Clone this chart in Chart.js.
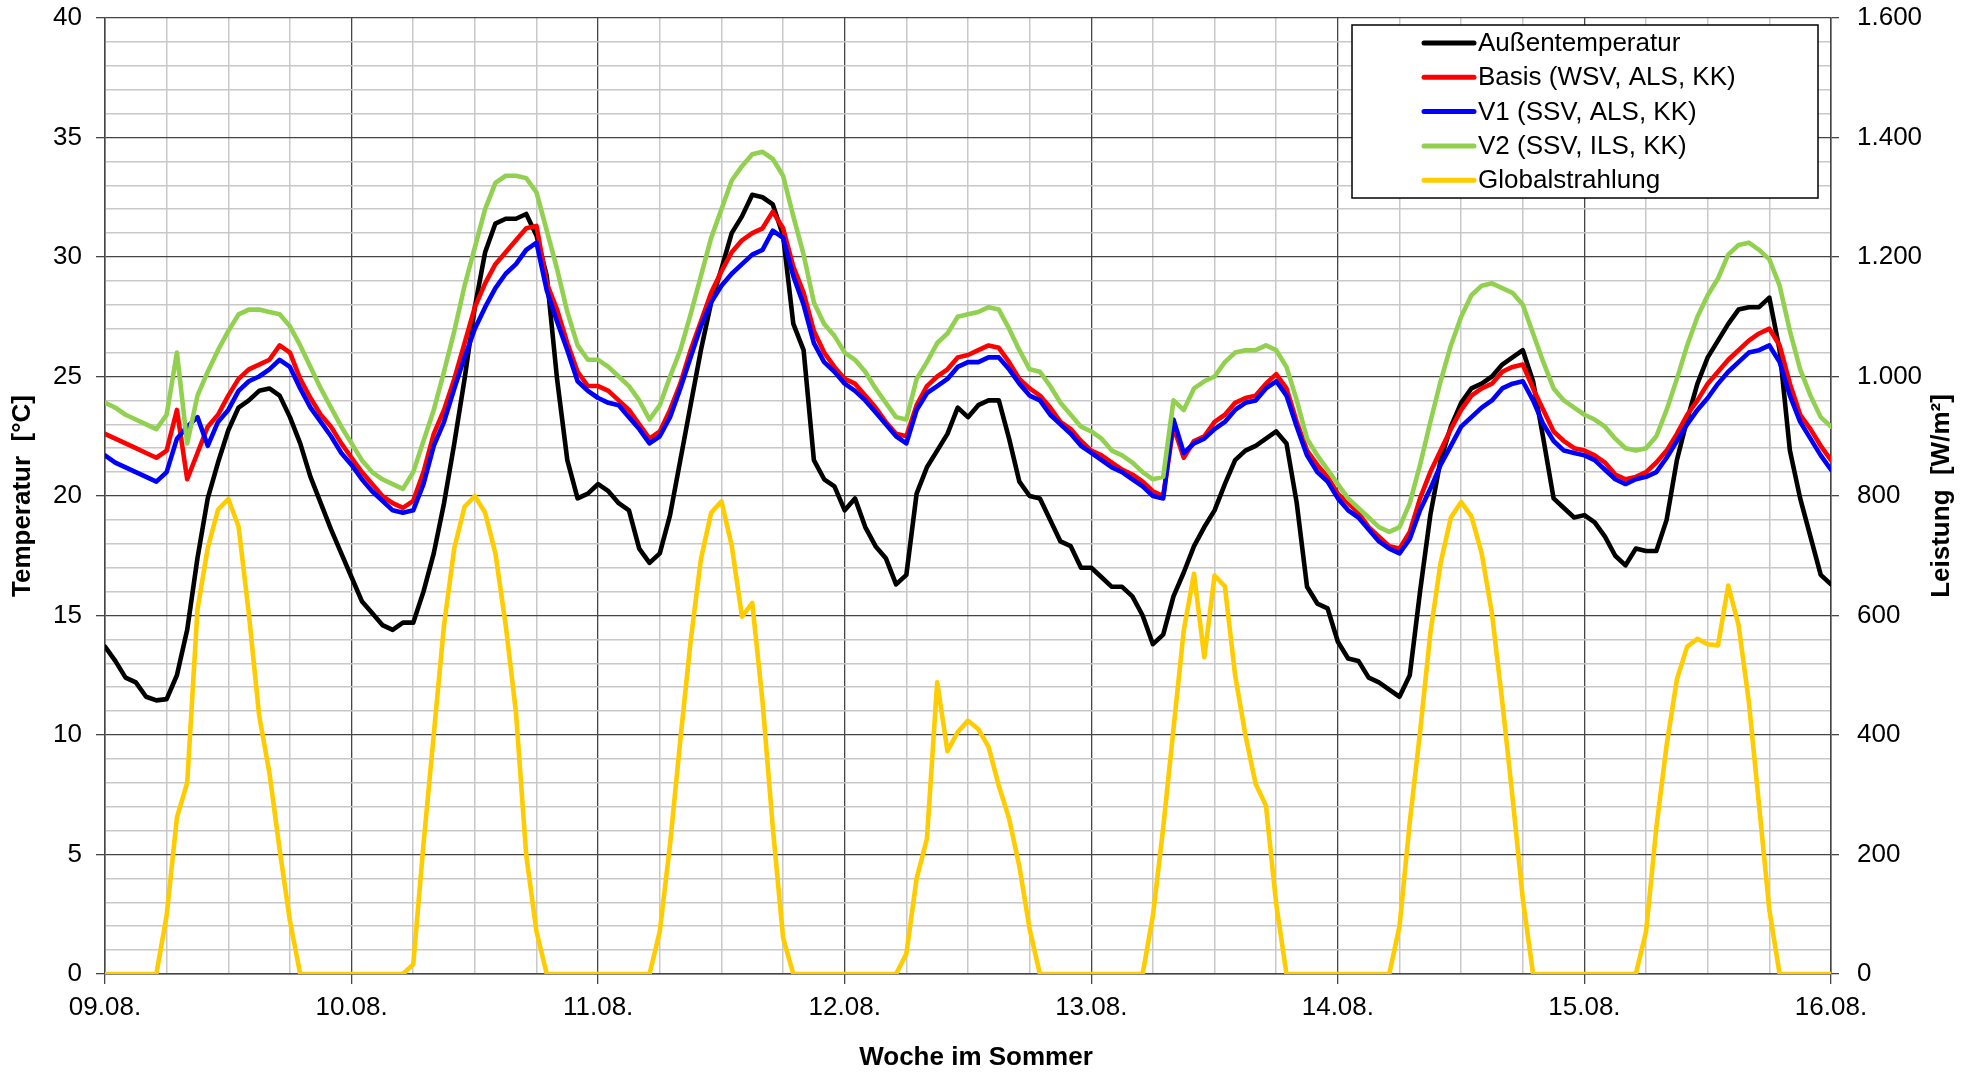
<!DOCTYPE html>
<html><head><meta charset="utf-8">
<script src="https://cdn.jsdelivr.net/npm/chart.js@4.4.1/dist/chart.umd.min.js"></script>
<style>html,body{margin:0;padding:0;background:#fff;}canvas{display:block;}</style>
</head><body>
<canvas id="c" width="1976" height="1074"></canvas>
<script>
// ---- data (hourly values, 09.08. 00:00 .. 16.08. 00:00) ----
const dayLabels = ['09.08.','10.08.','11.08.','12.08.','13.08.','14.08.','15.08.','16.08.'];
const seriesNames = ['Außentemperatur','Basis (WSV, ALS, KK)','V1 (SSV, ALS, KK)','V2 (SSV, ILS, KK)','Globalstrahlung'];
const xTitle = 'Woche im Sommer';
const yTitleLeft = 'Temperatur  [°C]';
const yTitleRight = 'Leistung  [W/m²]';
const STEP_H = 1;

const aussen = [
13.7,13.1,12.4,12.2,11.6,11.45,11.5,12.5,14.4,17.4,
19.9,21.4,22.75,23.7,24.0,24.4,24.5,24.2,23.3,22.2,
20.8,19.7,18.6,17.6,16.6,15.6,15.1,14.6,14.4,14.7,
14.7,16.0,17.6,19.7,22.2,24.9,27.9,30.2,31.4,31.6,
31.6,31.8,30.9,29.2,24.9,21.5,19.9,20.1,20.5,20.2,
19.7,19.4,17.8,17.2,17.6,19.2,21.5,23.8,26.1,28.1,
29.5,31.0,31.7,32.6,32.5,32.2,30.9,27.2,26.1,21.5,
20.7,20.4,19.4,19.9,18.7,17.9,17.4,16.3,16.7,20.1,
21.2,21.9,22.6,23.7,23.3,23.8,24.0,24.0,22.4,20.6,
20.0,19.9,19.0,18.1,17.9,17.0,17.0,16.6,16.2,16.2,
15.8,15.0,13.8,14.2,15.8,16.8,17.9,18.7,19.4,20.5,
21.5,21.9,22.1,22.4,22.7,22.2,19.7,16.2,15.5,15.3,
13.9,13.2,13.1,12.4,12.2,11.9,11.6,12.5,16.0,19.2,
21.5,22.9,23.9,24.5,24.7,25.0,25.5,25.8,26.1,24.8,
22.4,19.9,19.5,19.1,19.2,18.9,18.3,17.5,17.1,17.8,
17.7,17.7,19.0,21.5,23.2,24.7,25.8,26.5,27.2,27.8,
27.9,27.9,28.3,26.1,21.9,19.9,18.3,16.7,16.3];

const basis = [
22.6,22.4,22.2,22.0,21.8,21.6,21.9,23.6,20.7,21.8,
22.9,23.4,24.2,24.9,25.3,25.5,25.7,26.3,26.0,24.9,
24.1,23.4,22.9,22.2,21.6,21.0,20.5,20.0,19.7,19.5,
19.8,21.0,22.6,23.6,24.9,26.4,27.9,28.9,29.7,30.2,
30.7,31.2,31.3,28.9,27.8,26.4,25.2,24.6,24.6,24.4,
24.0,23.6,23.0,22.4,22.7,23.6,24.7,26.1,27.3,28.5,
29.4,30.2,30.7,31.0,31.2,31.9,31.2,29.6,28.5,26.9,
26.0,25.4,24.9,24.7,24.2,23.7,23.1,22.6,22.5,23.8,
24.6,25.0,25.3,25.8,25.9,26.1,26.3,26.2,25.6,24.9,
24.5,24.2,23.7,23.1,22.8,22.3,21.9,21.7,21.4,21.1,
20.9,20.6,20.2,20.0,22.9,21.6,22.3,22.5,23.1,23.4,
23.9,24.1,24.2,24.7,25.1,24.5,23.1,21.9,21.3,20.8,
20.1,19.7,19.3,18.7,18.3,17.9,17.8,18.5,19.9,21.0,
21.9,22.8,23.6,24.2,24.5,24.7,25.2,25.4,25.5,24.5,
23.6,22.7,22.3,22.0,21.9,21.7,21.4,20.9,20.7,20.8,
21.0,21.4,21.9,22.6,23.4,24.0,24.7,25.2,25.7,26.1,
26.5,26.8,27.0,26.3,24.7,23.4,22.8,22.1,21.5];

const v1 = [
21.7,21.4,21.2,21.0,20.8,20.6,21.0,22.4,22.9,23.3,
22.1,23.1,23.6,24.4,24.8,25.0,25.3,25.7,25.4,24.5,
23.7,23.1,22.5,21.8,21.3,20.7,20.2,19.8,19.4,19.3,
19.4,20.5,22.1,23.1,24.5,25.8,27.0,27.9,28.7,29.3,
29.7,30.3,30.6,28.6,27.3,26.1,24.8,24.4,24.1,23.9,
23.8,23.3,22.8,22.2,22.5,23.3,24.5,25.8,27.1,28.1,
28.8,29.3,29.7,30.1,30.3,31.1,30.8,29.2,28.0,26.4,
25.6,25.2,24.7,24.4,24.0,23.5,23.0,22.5,22.2,23.6,
24.3,24.6,24.9,25.4,25.6,25.6,25.8,25.8,25.3,24.7,
24.2,24.0,23.4,23.0,22.6,22.1,21.8,21.5,21.2,21.0,
20.7,20.4,20.0,19.9,23.2,21.8,22.2,22.4,22.8,23.1,
23.6,23.9,24.0,24.5,24.8,24.2,22.9,21.7,21.0,20.6,
19.9,19.4,19.1,18.6,18.1,17.8,17.6,18.2,19.4,20.3,
21.3,22.1,22.9,23.3,23.7,24.0,24.5,24.7,24.8,24.0,
23.0,22.3,21.9,21.8,21.7,21.5,21.1,20.7,20.5,20.7,
20.8,21.0,21.6,22.3,23.0,23.6,24.1,24.7,25.2,25.6,
26.0,26.1,26.3,25.6,24.2,23.1,22.4,21.7,21.1];

const v2 = [
23.9,23.7,23.4,23.2,23.0,22.8,23.4,26.0,22.2,24.2,
25.2,26.1,26.9,27.6,27.8,27.8,27.7,27.6,27.1,26.3,
25.4,24.5,23.7,22.9,22.2,21.5,21.0,20.7,20.5,20.3,
21.0,22.3,23.6,25.2,26.9,28.8,30.4,32.0,33.1,33.4,
33.4,33.3,32.7,31.1,29.5,27.7,26.3,25.7,25.7,25.4,
25.0,24.6,24.0,23.2,23.8,25.0,26.1,27.6,29.2,30.8,
32.0,33.2,33.8,34.3,34.4,34.1,33.4,31.7,30.1,28.1,
27.2,26.7,26.0,25.7,25.2,24.5,23.9,23.3,23.2,24.9,
25.6,26.4,26.8,27.5,27.6,27.7,27.9,27.8,27.0,26.1,
25.3,25.2,24.6,23.9,23.4,22.9,22.7,22.4,21.9,21.7,
21.4,21.0,20.7,20.8,24.0,23.6,24.5,24.8,25.0,25.6,
26.0,26.1,26.1,26.3,26.1,25.4,24.0,22.4,21.7,21.1,
20.5,19.9,19.5,19.1,18.7,18.5,18.7,19.7,21.3,23.1,
24.8,26.3,27.5,28.4,28.8,28.9,28.7,28.5,28.0,26.8,
25.6,24.5,24.0,23.7,23.4,23.2,22.9,22.4,22.0,21.9,
22.0,22.5,23.6,24.9,26.3,27.5,28.4,29.1,30.1,30.5,
30.6,30.3,29.9,28.8,26.9,25.3,24.2,23.3,22.9];

const strahlung = [
0,0,0,0,0,0,98,262,320,610,
713,777,795,749,603,433,337,208,89,0,
0,0,0,0,0,0,0,0,0,0,
16,217,401,584,713,782,800,772,704,584,
438,199,71,0,0,0,0,0,0,0,
0,0,0,0,71,217,392,557,694,772,
791,717,598,621,456,245,61,0,0,0,
0,0,0,0,0,0,0,0,34,160,
226,488,373,405,424,410,380,315,260,180,
75,0,0,0,0,0,0,0,0,0,
0,0,98,245,410,575,670,530,667,649,
500,400,318,282,117,0,0,0,0,0,
0,0,0,0,0,0,80,254,405,570,
688,764,790,766,704,603,456,296,126,0,
0,0,0,0,0,0,0,0,0,0,
71,245,383,493,548,561,552,550,650,584,
456,282,107,0,0,0,0,0,0];

// ---- styling ----
const FONT = "'Liberation Sans', Arial, Helvetica, sans-serif";
const MAJOR = '#454545';
const MINOR = '#c8c8c8';

function pts(arr){ return arr.map((v,i)=>({x:i*STEP_H, y:v})); }
function deNum(v){
  if (v >= 1000) { const r = String(v % 1000).padStart(3,'0'); return Math.floor(v/1000) + '.' + r; }
  return String(v);
}

const titlePlugin = {
  id:'titles',
  afterDraw(chart){
    const ctx = chart.ctx, ca = chart.chartArea;
    const cy = (ca.top + ca.bottom) / 2;
    ctx.save();
    ctx.fillStyle = '#000';
    ctx.font = 'bold 26px ' + FONT;
    ctx.textAlign = 'center';
    ctx.textBaseline = 'middle';
    ctx.save(); ctx.translate(23, cy); ctx.rotate(-Math.PI/2); ctx.fillText(yTitleLeft, 0, 0); ctx.restore();
    ctx.save(); ctx.translate(1942, cy); ctx.rotate(-Math.PI/2); ctx.fillText(yTitleRight, 0, 0); ctx.restore();
    ctx.fillText(xTitle, 976, 1058);
    ctx.restore();
  }
};

const legendPlugin = {
  id:'boxLegend',
  afterDraw(chart){
    const ctx = chart.ctx;
    const x0 = 1352, y0 = 25, w = 466, h = 173;
    ctx.save();
    ctx.fillStyle = '#fff';
    ctx.fillRect(x0, y0, w, h);
    ctx.strokeStyle = '#000';
    ctx.lineWidth = 1.5;
    ctx.strokeRect(x0, y0, w, h);
    chart.data.datasets.forEach((ds, i) => {
      const y = y0 + 18 + i * 34.3;
      ctx.strokeStyle = ds.borderColor;
      ctx.lineWidth = 5;
      ctx.lineCap = 'round';
      ctx.beginPath(); ctx.moveTo(1424, y); ctx.lineTo(1474, y); ctx.stroke();
      ctx.fillStyle = '#000';
      ctx.font = '26px ' + FONT;
      ctx.textAlign = 'left';
      ctx.textBaseline = 'middle';
      ctx.fillText(ds.label, 1478, y + 1);
    });
    ctx.restore();
  }
};

const colors = ['#000000', '#ff0000', '#0000ff', '#92d050', '#ffcc00'];
const values = [aussen, basis, v1, v2, strahlung];

const datasets = values.map((arr, i) => ({
  label: seriesNames[i],
  data: pts(arr),
  borderColor: colors[i],
  backgroundColor: colors[i],
  yAxisID: i === 4 ? 'y1' : 'y',
  order: 5 - i,
  borderWidth: 4.6,
  pointRadius: 0,
  tension: 0,
  fill: false
}));

new Chart(document.getElementById('c'), {
  type: 'line',
  data: { datasets },
  options: {
    responsive: false,
    animation: false,
    devicePixelRatio: 1,
    layout: { padding: { top: 18, right: 0, bottom: 0, left: 0 } },
    elements: { line: { borderJoinStyle: 'round', borderCapStyle: 'round' } },
    plugins: { legend: { display: false }, tooltip: { enabled: false } },
    scales: {
      x: {
        type: 'linear', min: 0, max: 168,
        afterFit(s){ s.height = 100; },
        ticks: {
          stepSize: 6, maxTicksLimit: 1000, autoSkip: false, maxRotation: 0, minRotation: 0,
          padding: 8, color: '#000', font: { family: FONT, size: 26 },
          callback: v => (v % 24 === 0 ? dayLabels[v / 24] : '')
        },
        grid: {
          color: c => (c.tick && c.tick.value % 24 === 0 ? MAJOR : MINOR),
          lineWidth: c => (c.tick && c.tick.value % 24 === 0 ? 1.3 : 1.5),
          tickColor: c => (c.tick && c.tick.value % 24 === 0 ? MAJOR : 'rgba(0,0,0,0)'),
          tickLength: 10, drawTicks: true
        },
        border: { color: MAJOR, width: 1.5 }
      },
      y: {
        position: 'left', min: 0, max: 40,
        afterFit(s){ s.width = 105; s.paddingTop = 0; s.paddingBottom = 0; },
        ticks: {
          stepSize: 1, maxTicksLimit: 1000, autoSkip: false, padding: 14,
          color: '#000', font: { family: FONT, size: 26 },
          callback: v => (v % 5 === 0 ? String(v) : '')
        },
        grid: {
          color: c => (c.tick && c.tick.value % 5 === 0 ? MAJOR : MINOR),
          lineWidth: c => (c.tick && c.tick.value % 5 === 0 ? 1.3 : 1.5),
          tickColor: c => (c.tick && c.tick.value % 5 === 0 ? MAJOR : 'rgba(0,0,0,0)'),
          tickLength: 9, drawTicks: true
        },
        border: { color: MAJOR, width: 1.5 }
      },
      y1: {
        position: 'right', min: 0, max: 1600,
        afterFit(s){ s.width = 145; s.paddingTop = 0; s.paddingBottom = 0; },
        ticks: {
          stepSize: 200, maxTicksLimit: 1000, autoSkip: false, padding: 18,
          color: '#000', font: { family: FONT, size: 26 },
          callback: v => deNum(v)
        },
        grid: { drawOnChartArea: false, color: MAJOR, tickColor: MAJOR, tickLength: 8, lineWidth: 1.3 },
        border: { color: MAJOR, width: 1.5 }
      }
    }
  },
  plugins: [titlePlugin, legendPlugin]
});
</script>
</body></html>
